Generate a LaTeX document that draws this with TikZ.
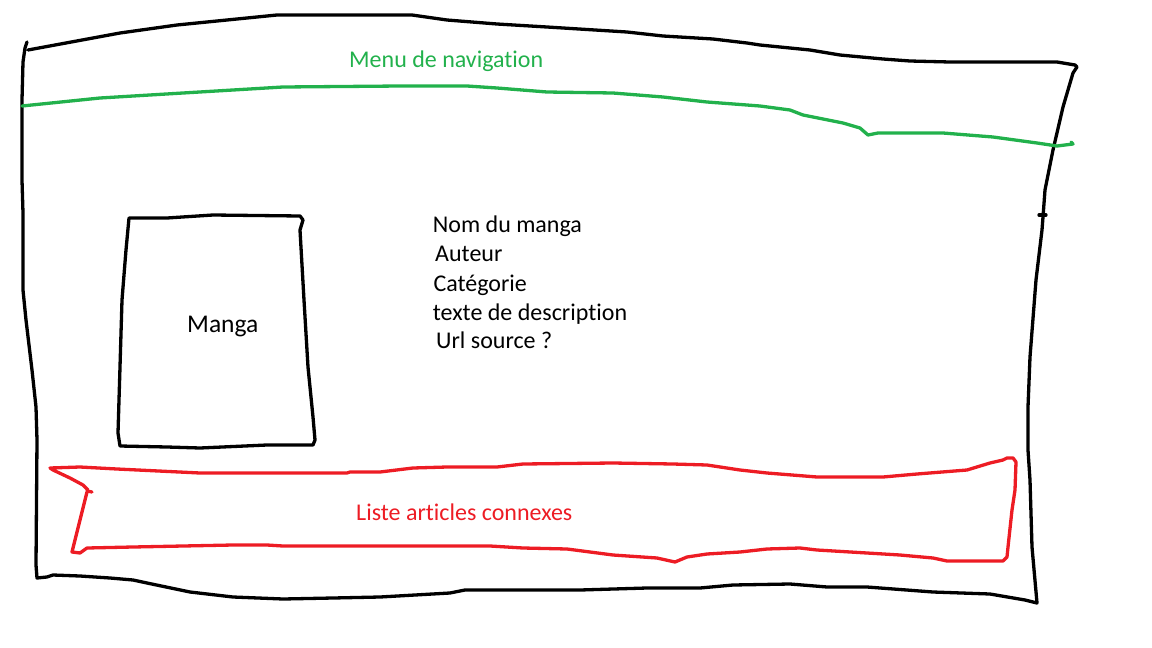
\documentclass[tikz,border=0pt]{standalone}
\usepackage{fontspec}
\setmainfont[Ligatures=NoCommon]{Carlito}
\definecolor{pgreen}{HTML}{22B14C}
\definecolor{pred}{HTML}{ED1C24}
\tikzset{
  pen/.style={line width=3.3pt, line join=round, line cap=round},
  lbl/.style={inner sep=0pt, anchor=base west, font=\fontsize{24}{28}\selectfont},
}
\begin{document}
\begin{tikzpicture}[x=1pt,y=-1pt]
\useasboundingbox (0,0) rectangle (1152,648);
% outer frame
\draw[pen,black] (28,50) -- (120,33) -- (177,25) -- (277,15) -- (412,15) -- (447,20) -- (497,24) -- (547,27) -- (627,32) -- (663,36) -- (713,39) -- (747,43) -- (760,45) -- (810,50) -- (840,55) -- (883,59) -- (910,61) -- (950,62) -- (1057,62) -- (1075,65) -- (1077,67)
 -- (1073,73) -- (1063,107) -- (1053,150) -- (1045,190) -- (1043,217) -- (1042,230) -- (1036,280) -- (1030,357) -- (1028,407) -- (1028,450) -- (1030,480) -- (1032,547) -- (1037,603)
 -- (1025,600) -- (990,594) -- (933,592) -- (867,587) -- (827,587) -- (790,584) -- (733,585) -- (700,588) -- (647,588) -- (580,590) -- (465,590) -- (450,593) -- (380,597) -- (333,598) -- (283,599) -- (233,597) -- (190,592) -- (147,583) -- (133,580) -- (110,578) -- (80,576) -- (53,575) -- (47,577) -- (37,578)
 -- (36,565) -- (37,440) -- (36,407) -- (32,370) -- (26,320) -- (23,290) -- (23,213) -- (22,180) -- (22,100) -- (23,62) -- (25,48) -- (27,42);
\draw[pen,black] (1039,215) -- (1046,215);
% navigation line
\draw[pen,pgreen] (22,106) -- (100,98) -- (183,93) -- (283,87) -- (400,86) -- (467,86) -- (497,88) -- (547,92) -- (613,93) -- (663,97) -- (707,102) -- (747,105) -- (760,106) -- (790,110) -- (803,115) -- (843,123) -- (860,128) -- (868,135) -- (878,133) -- (943,133) -- (993,137) -- (1037,143) -- (1057,146) -- (1073,144) -- (1071,142);
% manga box
\draw[pen,black] (129,218) -- (167,218) -- (213,215) -- (300,216) -- (303,220) -- (300,230) -- (304,300) -- (308,367) -- (313,417) -- (315,440) -- (313,445) -- (267,445) -- (200,448) -- (167,447) -- (120,446) -- (118,433) -- (120,367) -- (122,300) -- (126,250) -- cycle;
% related articles
\draw[pen,pred] (88,490) -- (83,485) -- (70,478) -- (53,470) -- (50,468) -- (80,467) -- (117,469) -- (200,473) -- (347,473) -- (350,472) -- (380,472) -- (413,468) -- (447,467) -- (497,467) -- (523,464) -- (613,463) -- (673,464) -- (707,465) -- (740,470) -- (767,473) -- (817,477) -- (883,477) -- (917,474) -- (967,470) -- (990,463) -- (1003,460) -- (1007,458) -- (1013,458) -- (1016,462)
 -- (1015,490) -- (1012,510) -- (1008,547) -- (1007,557) -- (1003,561) -- (947,561) -- (933,558) -- (900,555) -- (867,553) -- (817,550) -- (800,548) -- (767,549) -- (740,552) -- (707,554) -- (687,557) -- (675,562) -- (657,558) -- (613,555) -- (567,549) -- (523,548) -- (490,546) -- (400,546) -- (283,546) -- (267,545) -- (233,545) -- (133,547) -- (87,548) -- (80,553) -- (72,552) -- (80,520) -- (87,492);
\draw[pen,pred] (87,491) -- (92,492);
% texts
\node[lbl,text=pgreen] (menu) at (349,67.3) {Menu de navigation};
\node[lbl,font=\fontsize{25.5}{30}\selectfont] (manga) at (187,332.7) {Manga};
\node[lbl] (nom) at (432.7,232.3) {Nom du manga};
\node[lbl] (auteur) at (435,261.7) {Auteur};
\node[lbl] (cat) at (433.3,291) {Catégorie};
\node[lbl] (desc) at (432.7,320) {texte de description};
\node[lbl] (url) at (436,348) {Url source ?};
\node[lbl,text=pred] (liste) at (356,520.7) {Liste articles connexes};
\end{tikzpicture}
\end{document}
